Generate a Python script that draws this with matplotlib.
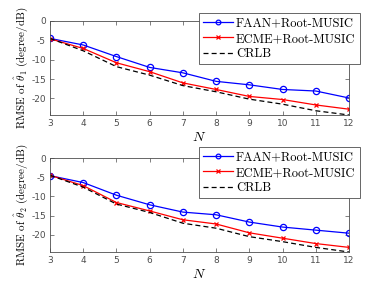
import matplotlib
matplotlib.use("Agg")
import matplotlib.pyplot as plt

N = [3, 4, 5, 6, 7, 8, 9, 10, 11, 12]
faan_t1 = [-4.5, -6.2, -9.2, -12.0, -13.4, -15.6, -16.5, -17.7, -18.1, -19.9]
ecme_t1 = [-4.6, -7.1, -10.8, -13.1, -16.0, -17.7, -19.5, -20.3, -21.7, -22.8]
crlb_t1 = [-4.5, -7.7, -11.8, -14.0, -16.7, -18.3, -20.2, -21.5, -23.2, -24.3]
faan_t2 = [-4.6, -6.4, -9.7, -12.2, -14.1, -14.8, -16.7, -18.0, -18.8, -19.6]
ecme_t2 = [-4.5, -7.2, -11.6, -13.8, -16.1, -17.2, -19.5, -20.9, -22.3, -23.3]
crlb_t2 = [-4.5, -7.6, -12.0, -14.2, -17.0, -18.3, -20.5, -21.8, -23.3, -24.5]
labels = ["FAAN+Root-MUSIC", "ECME+Root-MUSIC", "CRLB"]
ylabels = [r"RMSE of $\hat{\theta}_1$ (degree/dB)", r"RMSE of $\hat{\theta}_2$ (degree/dB)"]

plt.rcParams['mathtext.fontset'] = 'cm'
plt.rcParams['axes.unicode_minus'] = False

fig = plt.figure(figsize=(3.85, 2.89), dpi=100)
W, H = 385, 289
axes_px = [(50, 21, 349, 115), (50, 158, 349, 252)]
leg_px = [(199, 13), (199, 147)]
datasets = [(faan_t1, ecme_t1, crlb_t1, -24.3), (faan_t2, ecme_t2, crlb_t2, -24.5)]
gray = '0.3'
for i, ((x0, y0, x1, y1), (f, e, c, ymin)) in enumerate(zip(axes_px, datasets)):
    ax = fig.add_axes([x0 / W, 1 - y1 / H, (x1 - x0) / W, (y1 - y0) / H])
    ax.plot(N, f, color='#0000ff', marker='o', markersize=4.5, markerfacecolor='none',
            markeredgewidth=0.9, linewidth=0.9, label=labels[0])
    ax.plot(N, e, color='#ff0000', marker='x', markersize=3.5, markeredgewidth=0.9,
            linewidth=0.9, label=labels[1])
    ax.plot(N, c, color='black', linestyle=(0, (4, 2.5)), linewidth=0.9, label=labels[2])
    ax.set_xlim(3, 12)
    ax.set_ylim(ymin, 0)
    ax.set_xticks(N)
    ax.set_yticks([0, -5, -10, -15, -20])
    ax.tick_params(direction='in', top=True, right=True, labelsize=6.5, colors=gray,
                   length=3, width=0.5, labelcolor=gray, pad=3)
    for s in ax.spines.values():
        s.set_color(gray)
        s.set_linewidth(0.6)
    ax.set_ylabel(ylabels[i], fontfamily='cmr10', fontsize=8, labelpad=1)
    ax.set_xlabel(r"$N$", fontsize=10, labelpad=1)
    lx, ly = leg_px[i]
    leg = ax.legend(loc='upper left', bbox_to_anchor=(lx / W, 1 - ly / H),
                    bbox_transform=fig.transFigure, prop={'family': 'cmr10', 'size': 9},
                    frameon=True, fancybox=False, edgecolor=gray, framealpha=1,
                    borderpad=0.35, labelspacing=0.25, handlelength=2.4,
                    handletextpad=0.2, borderaxespad=0, markerscale=0.75)
    leg.get_frame().set_linewidth(0.6)

fig.savefig("out.png", dpi=100)
